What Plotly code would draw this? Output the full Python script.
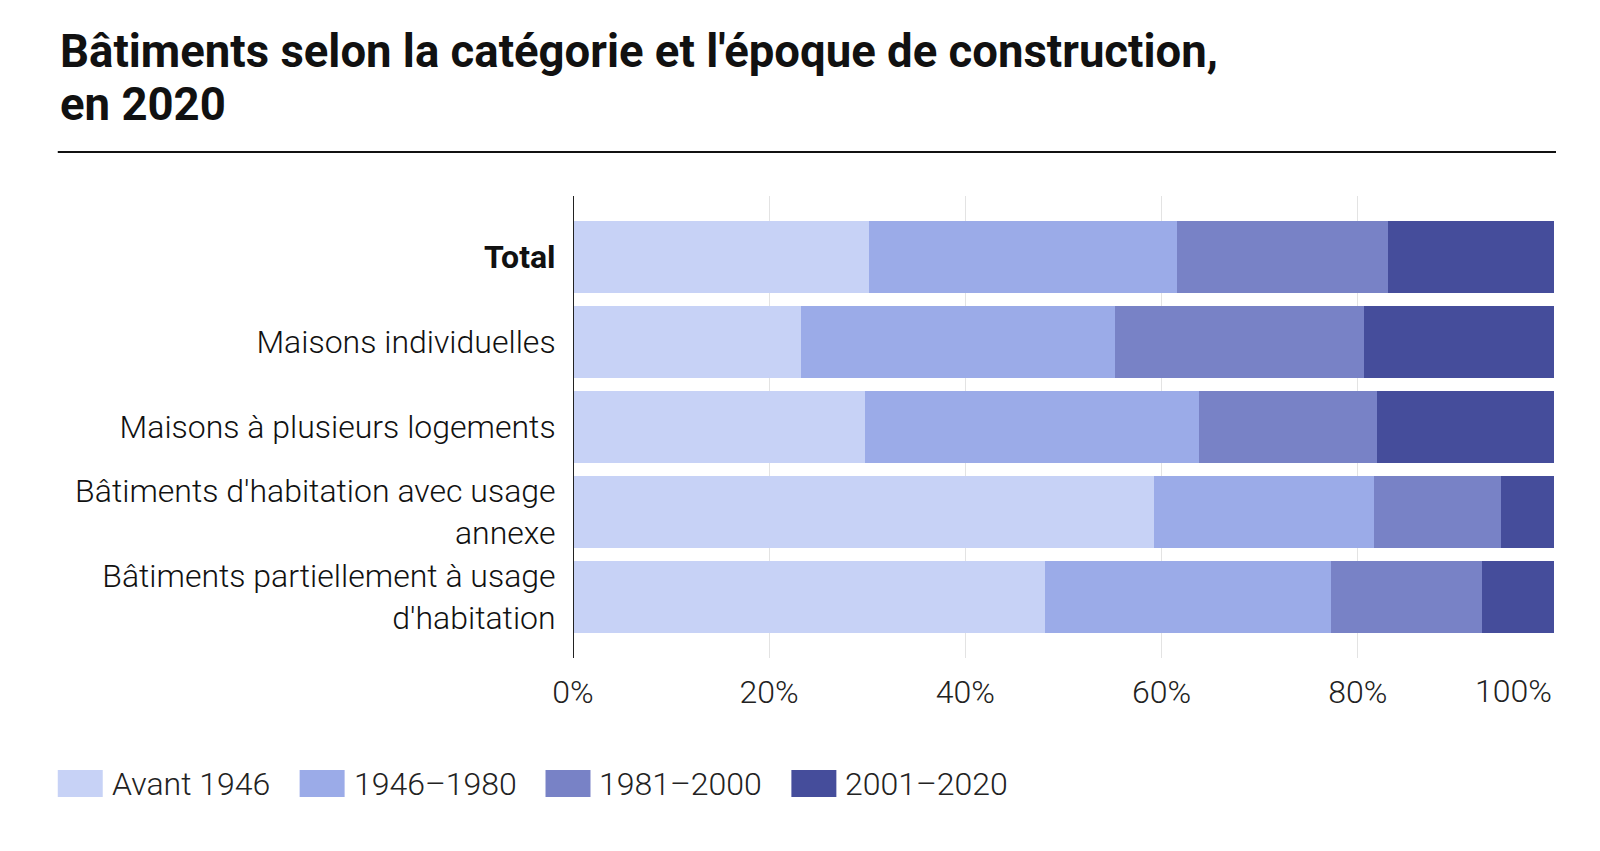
import plotly.graph_objects as go

categories = [
    "<b>Total</b>",
    "Maisons individuelles",
    "Maisons à plusieurs logements",
    "Bâtiments d'habitation avec usage<br>annexe",
    "Bâtiments partiellement à usage<br>d'habitation",
]
series_names = ["Avant 1946", "1946–1980", "1981–2000", "2001–2020"]
avant_1946 = [30.2, 23.2, 29.8, 59.2, 48.1]
p1946_1980 = [31.4, 32.0, 34.0, 22.5, 29.2]
p1981_2000 = [21.5, 25.4, 18.2, 12.9, 15.4]
p2001_2020 = [16.9, 19.4, 18.0, 5.4, 7.3]
colors = ["#c7d2f6", "#9babe8", "#7882c6", "#454d9b"]
x_ticks = [0, 20, 40, 60, 80, 100]
x_tick_labels = ["0%", "20%", "40%", "60%", "80%", "100%"]
title_lines = ["Bâtiments selon la catégorie et l'époque de construction,", "en 2020"]

series_values = [avant_1946, p1946_1980, p1981_2000, p2001_2020]

FONT = "Roboto"
# page body has an 8px margin: figure is drawn in a 1592x843 box
W, H = 1592, 843
L, R, T, B = 564.5, 46, 188, 193
pw = W - L - R
ph = H - T - B

def px_x(p):
    return (p - L) / pw

def px_y(p):
    return (H - B - p) / ph

fig = go.Figure()
for name, vals, col in zip(series_names, series_values, colors):
    fig.add_trace(go.Bar(
        y=categories, x=vals, name=name, orientation="h",
        marker=dict(color=col, line=dict(width=0)),
        showlegend=False,
    ))

shapes = []
annotations = []
# title (two lines placed separately)
for line, cy in zip(title_lines, [43.5, 96]):
    annotations.append(dict(text=line, xref="paper", yref="paper",
                            x=px_x(49), y=px_y(cy), xanchor="left", yanchor="middle",
                            showarrow=False,
                            font=dict(family=FONT, size=45.5, color="#111111", weight=700)))
# title rule
shapes.append(dict(type="line", xref="paper", yref="paper",
                   x0=px_x(49), x1=px_x(1548), y0=px_y(144), y1=px_y(144),
                   line=dict(color="#111111", width=2)))
# custom legend
sw_x = [49, 291, 537, 783]
for name, col, sx in zip(series_names, colors, sw_x):
    shapes.append(dict(type="rect", xref="paper", yref="paper",
                       x0=px_x(sx), x1=px_x(sx + 45), y0=px_y(789), y1=px_y(762),
                       fillcolor=col, line=dict(width=0)))
    annotations.append(dict(text=name, xref="paper", yref="paper",
                            x=px_x(sx + 52), y=px_y(775.5), xanchor="left", yanchor="middle",
                            showarrow=False,
                            font=dict(family=FONT, size=32, color="#222222", weight=300)))
# last x tick label kept inside the plot edge
annotations.append(dict(text=x_tick_labels[-1], xref="x", yref="paper",
                        x=x_ticks[-1], y=px_y(683), xanchor="right", yanchor="middle",
                        showarrow=False,
                        font=dict(family=FONT, size=32, color="#222222", weight=300)))

fig.update_layout(
    barmode="stack",
    bargap=0.147,
    width=W, height=H,
    margin=dict(l=L, r=R, t=T, b=B, autoexpand=False),
    paper_bgcolor="white", plot_bgcolor="white",
    xaxis=dict(
        range=[0, 100], tickvals=x_ticks, ticktext=x_tick_labels[:-1] + [""],
        showgrid=True, gridcolor="#e3e3e3", gridwidth=1,
        zeroline=False, showline=False,
        ticks="outside", ticklen=6, tickcolor="rgba(0,0,0,0)",
        tickfont=dict(family=FONT, size=32, color="#222222", weight=300),
    ),
    yaxis=dict(
        autorange=False, range=[4.72, -0.72],
        categoryorder="array", categoryarray=categories,
        showline=False, showgrid=False,
        ticks="outside", ticklen=10, tickcolor="rgba(0,0,0,0)",
        tickfont=dict(family=FONT, size=32, color="#111111", weight=300),
    ),
    shapes=shapes,
    annotations=annotations,
)
# axis line at 0
fig.add_shape(type="line", xref="x", yref="paper", x0=0, x1=0, y0=0, y1=1,
              line=dict(color="#222222", width=2))

fig.write_html("out.html")
